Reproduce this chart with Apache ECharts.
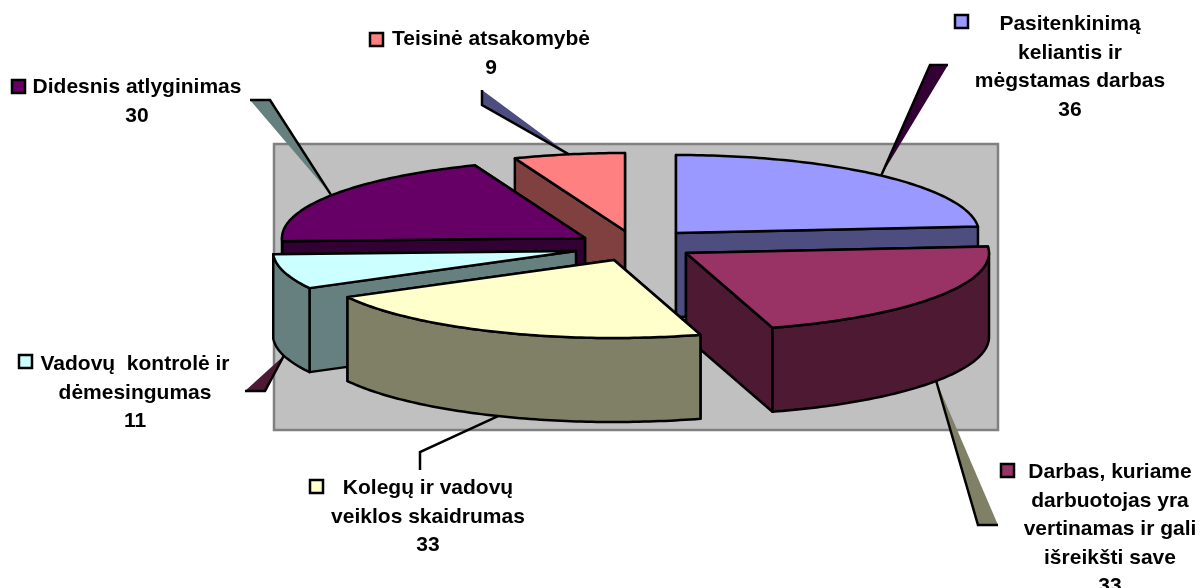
<!DOCTYPE html>
<html>
<head>
<meta charset="utf-8">
<style>
  html, body { margin: 0; padding: 0; background: #fff; }
  #main { width: 1200px; height: 588px; }
</style>
<script src="https://cdn.jsdelivr.net/npm/echarts@6/dist/echarts.min.js"></script>
</head>
<body>
<div id="main"></div>
<script>
// data
var categories = [
  "Pasitenkinimą\nkeliantis ir\nmėgstamas darbas",
  "Darbas, kuriame\ndarbuotojas yra\nvertinamas ir gali\nišreikšti save",
  "Kolegų ir vadovų\nveiklos skaidrumas",
  "Vadovų  kontrolė ir\ndėmesingumas",
  "Didesnis atlyginimas",
  "Teisinė atsakomybė"
];
var values = [36, 33, 33, 11, 30, 9];

// colours
var topColors = ["#9999FF", "#993366", "#FFFFCC", "#CCFFFF", "#660066", "#FF8080"];
var sideColors = ["#4D4D80", "#4D1933", "#808066", "#668080", "#330033", "#804040"];
var leaderColors = ["#330033", "#808066", "none", "#4D1933", "#668080", "#4D4D80"];

// pie geometry
var rx = 303, ry = 78, depth = 84;
var pieX = 630, pieY = 245;
var sliceShift = [[46, -12], [56, 8], [-16, 15], [-54, 6], [-45, -7], [-5, -14]]; // explosion
var drawOrder = [5, 4, 0, 3, 1, 2]; // back to front

// label layout
var labelPos = [[1070, 10], [1110, 458], [428, 474], [135, 350], [137, 73], [491, 25]];
var keyPos = [[955, 15], [1001, 464], [310, 480], [19, 355], [12, 80], [370, 33]];
var leaderElbow = [[930, 65], [978, 525], [420, 452], [265, 391], [270, 100], [482, 105]];
var leaderEnd = [[948, 65], [998, 525], [420, 470], [245, 391], [250, 100], [482, 90]];

var total = values.reduce(function (a, b) { return a + b; }, 0);
var RAD = Math.PI / 180;

function angles() {
  var res = [], sum = 0;
  values.forEach(function (v) {
    res.push([sum / total * 360, (sum + v) / total * 360]);
    sum += v;
  });
  return res;
}
var sliceAngles = angles();

function center(i) {
  return [pieX + sliceShift[i][0], pieY + sliceShift[i][1]];
}
function rim(c, deg, drop) {
  return [c[0] + rx * Math.sin(deg * RAD), c[1] - ry * Math.cos(deg * RAD) + (drop || 0)];
}
function arcPoints(c, a, b, drop) {
  var pts = [], n = Math.max(2, Math.ceil(Math.abs(b - a)));
  for (var k = 0; k <= n; k++) pts.push(rim(c, a + (b - a) * k / n, drop));
  return pts;
}
function face(points, fill) {
  return {
    type: "polygon",
    shape: { points: points },
    style: { fill: fill, stroke: "#000", lineWidth: 2.5, lineJoin: "round" }
  };
}
function wallFor(c, deg, fill) {
  var p = rim(c, deg);
  return face([c, p, [p[0], p[1] + depth], [c[0], c[1] + depth]], fill);
}

function renderSlice(i) {
  var c = center(i), a = sliceAngles[i][0], b = sliceAngles[i][1];
  var back = [], front = [];
  // radial walls, the ones turned away from us go first
  (Math.sin(a * RAD) < 0 ? front : back).push(wallFor(c, a, sideColors[i]));
  (Math.sin(b * RAD) > 0 ? front : back).push(wallFor(c, b, sideColors[i]));
  // curved wall, only the near half of the rim shows
  var from = Math.max(a, 90), to = Math.min(b, 270);
  if (to > from) {
    front.push(face(arcPoints(c, from, to).concat(arcPoints(c, to, from, depth)), sideColors[i]));
  }
  var top = face([c].concat(arcPoints(c, a, b)), topColors[i]);
  return back.concat(front, [top]);
}

function renderLeader(i) {
  var c = center(i), mid = (sliceAngles[i][0] + sliceAngles[i][1]) / 2;
  var tip = rim(c, mid, Math.cos(mid * RAD) < 0 ? depth : 0);
  var out = [];
  if (leaderColors[i] !== "none") {
    out.push({
      type: "polygon",
      shape: { points: [tip, leaderElbow[i], leaderEnd[i]] },
      style: { fill: leaderColors[i] }
    });
  }
  out.push({
    type: "polyline",
    shape: { points: [tip, leaderElbow[i], leaderEnd[i]] },
    style: { fill: "none", stroke: "#000", lineWidth: 2.5 }
  });
  return out;
}

function renderLabel(i) {
  return [
    {
      type: "rect",
      shape: { x: keyPos[i][0], y: keyPos[i][1], width: 13, height: 13 },
      style: { fill: topColors[i], stroke: "#000", lineWidth: 2.5 }
    },
    {
      type: "text",
      style: {
        text: categories[i] + "\n" + values[i],
        x: labelPos[i][0],
        y: labelPos[i][1],
        align: "center",
        verticalAlign: "top",
        fill: "#000",
        font: "bold 21px 'Liberation Sans', Arial, sans-serif",
        lineHeight: 28.5
      }
    }
  ];
}

var main = echarts.init(document.getElementById("main"), null, { renderer: "canvas" });
main.setOption({
  animation: false,
  backgroundColor: "#fff",
  grid: {
    show: true,
    left: 274, top: 144, width: 724, height: 286,
    backgroundColor: "#C0C0C0",
    borderColor: "#808080",
    borderWidth: 2.5
  },
  xAxis: { type: "value", show: false },
  yAxis: { type: "value", show: false },
  series: [{
    type: "custom",
    coordinateSystem: "none",
    data: values,
    silent: true,
    renderItem: function (params) {
      // one pass draws the whole pie so the slices stack in depth order
      if (params.dataIndex !== 0) return { type: "group", children: [] };
      var kids = [];
      drawOrder.forEach(function (i) { kids = kids.concat(renderSlice(i)); });
      values.forEach(function (v, i) { kids = kids.concat(renderLeader(i), renderLabel(i)); });
      return { type: "group", children: kids };
    }
  }]
});
</script>
</body>
</html>
